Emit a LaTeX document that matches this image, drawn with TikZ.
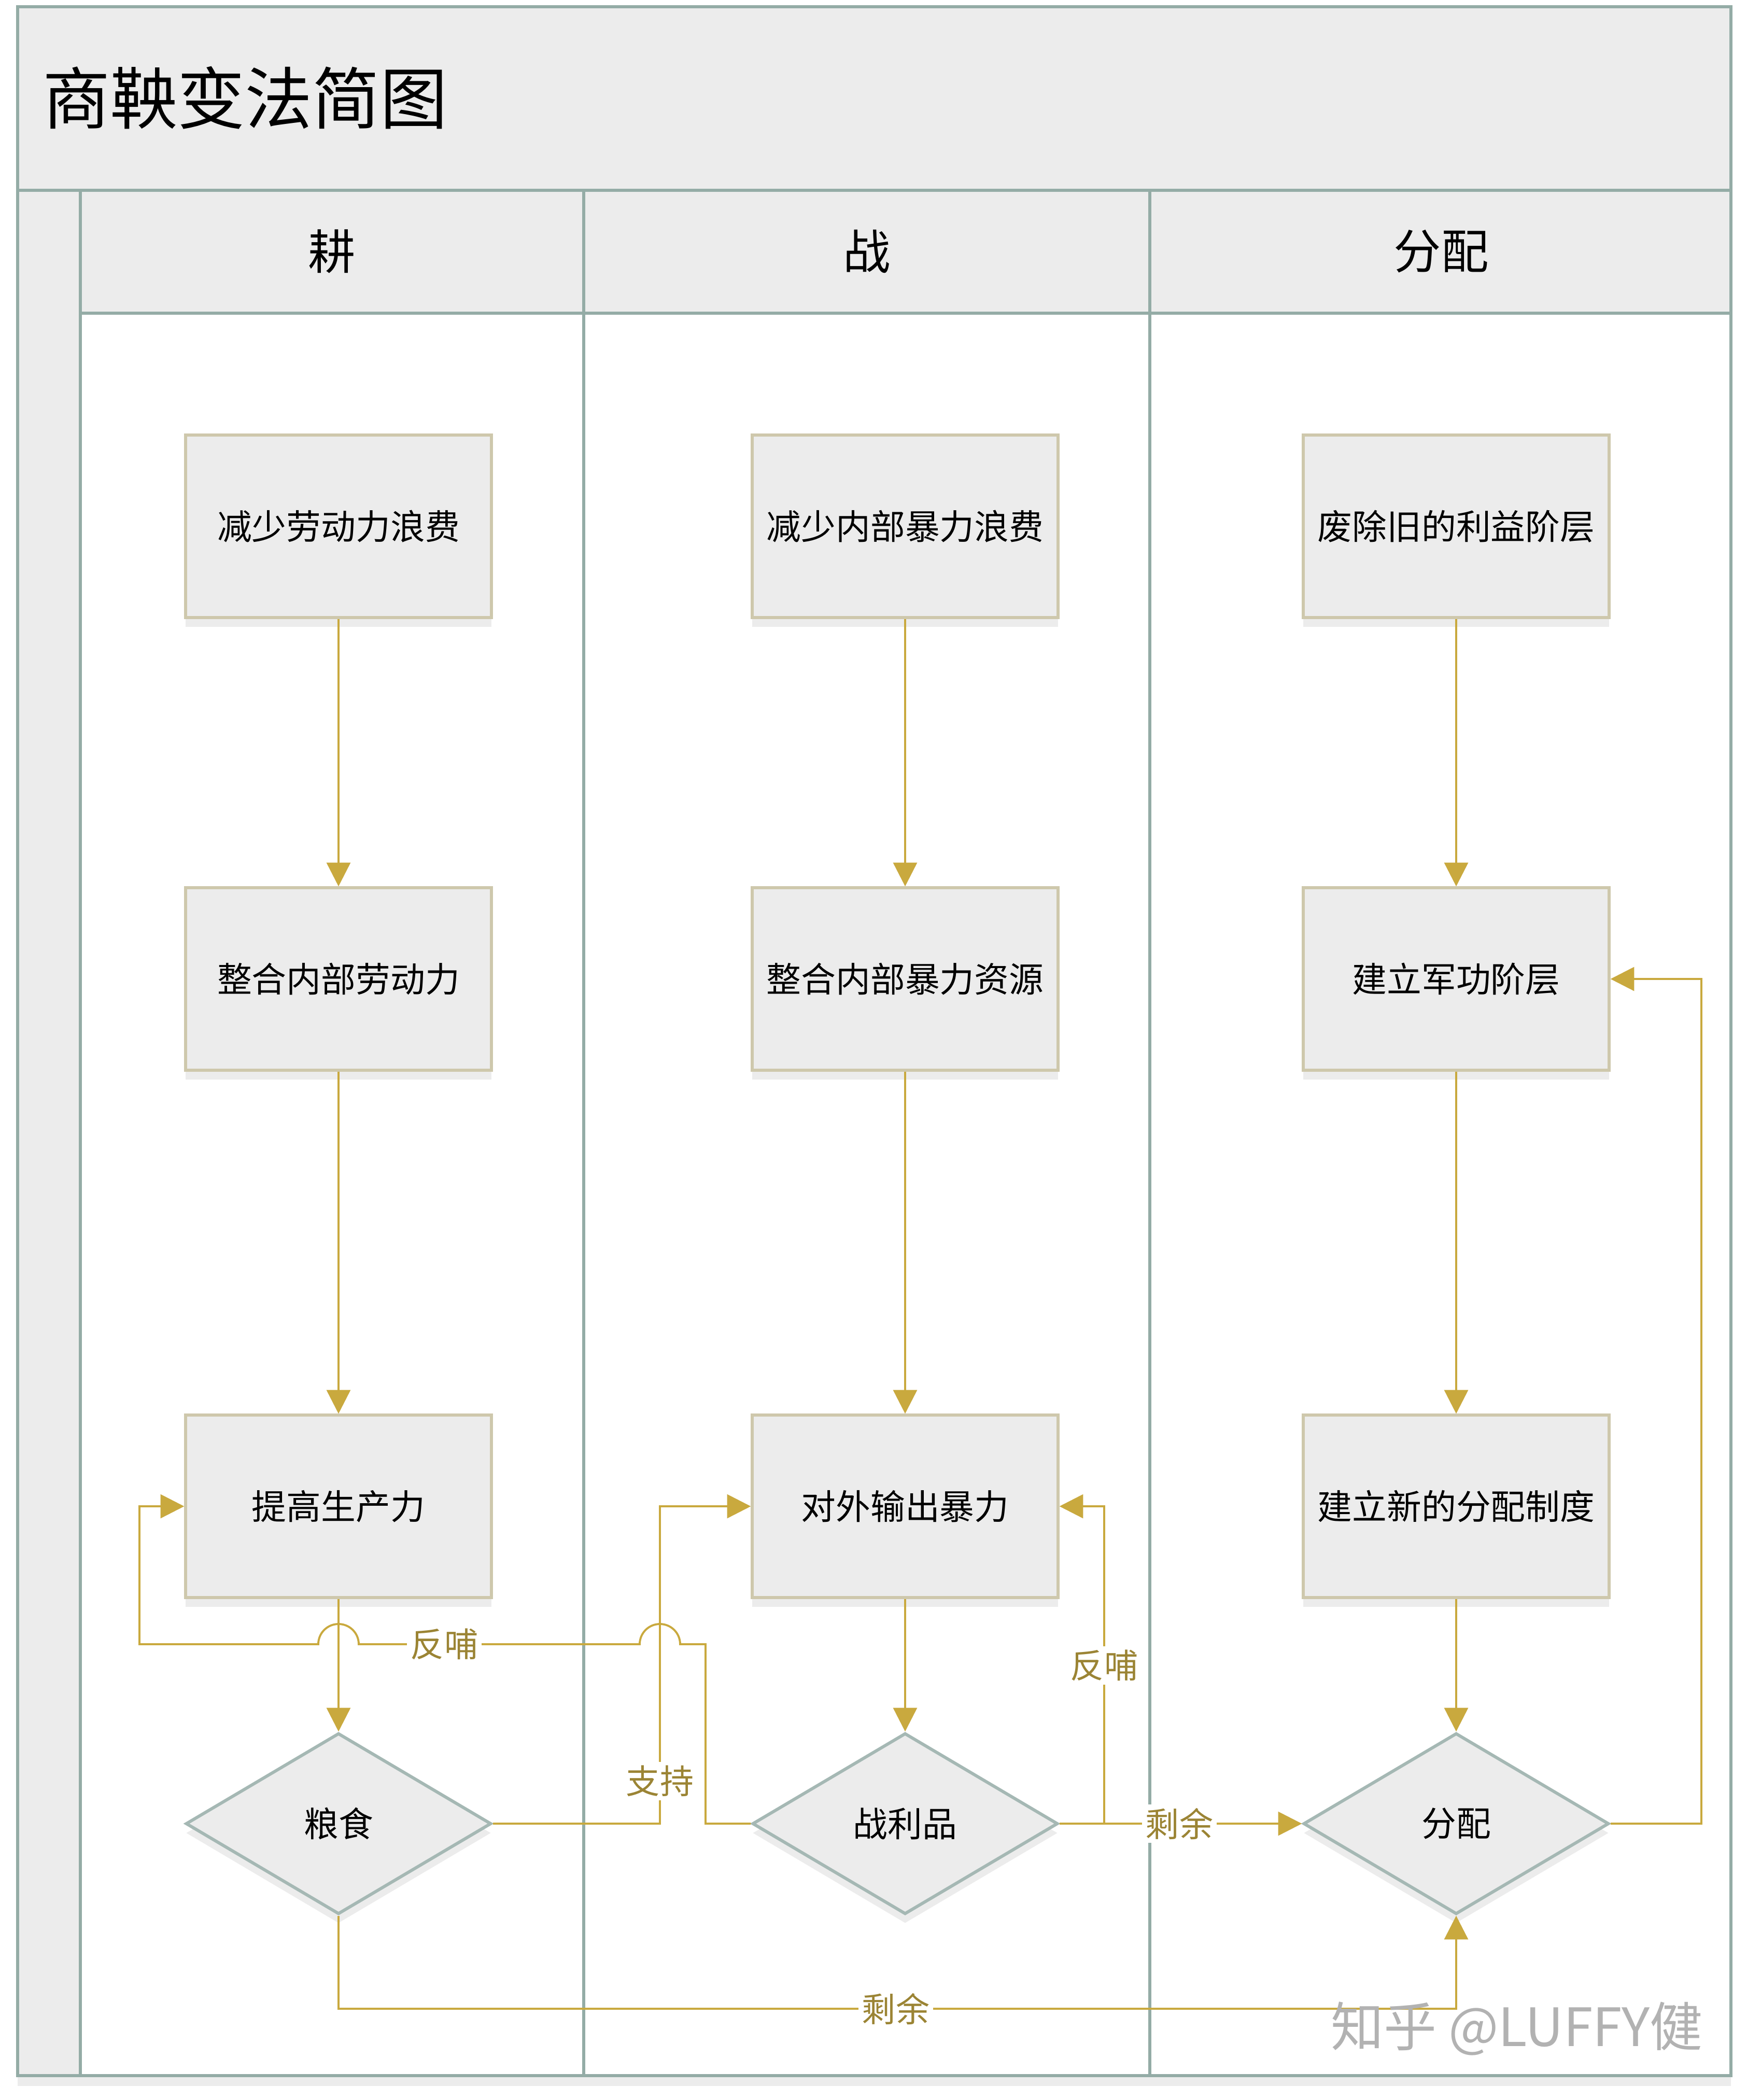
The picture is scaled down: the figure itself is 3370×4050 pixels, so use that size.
\documentclass[tikz,border=0pt]{standalone}
\usepackage{fontspec}
\setmainfont{Noto Sans CJK SC}
\usetikzlibrary{arrows.meta,shapes.geometric,shadows}
\definecolor{lanegray}{HTML}{94ACA6}
\definecolor{paper}{HTML}{ECECEC}
\definecolor{boxtan}{HTML}{CEC8AC}
\definecolor{diagray}{HTML}{A5B8B4}
\definecolor{gold}{HTML}{C9A93E}
\definecolor{goldtext}{HTML}{9B8434}
\tikzset{
  laneline/.style={draw=lanegray,line width=1.5pt},
  stepbox/.style={draw=boxtan,line width=1.7pt,fill=paper,minimum width=5.89cm,minimum height=3.51cm,
    drop shadow={opacity=.15,shadow xshift=0pt,shadow yshift=-.18cm}},
  choice/.style={diamond,draw=diagray,line width=1.7pt,fill=paper,inner sep=0pt,minimum width=5.89cm,minimum height=3.49cm,
    drop shadow={opacity=.15,shadow xshift=0pt,shadow yshift=-.18cm}},
  flow/.style={draw=gold,line width=1.1pt},
  tag/.style={fill=white,text=goldtext,inner sep=2pt,font=\fontsize{18.5}{22}\selectfont},
}
\begin{document}
\begin{tikzpicture}[x=.01cm,y=-.01cm,>={Triangle[length=13pt,width=13pt]},font=\fontsize{19}{23}\selectfont]
  \useasboundingbox[fill=white] (0,0) rectangle (3370,4050);
  % frame and lanes
  \fill[white,drop shadow={opacity=.15,shadow xshift=0pt,shadow yshift=-.2cm}] (34,13) rectangle (3339,4003);
  \draw[laneline,fill=paper] (34,13) rectangle (3339,367);
  \draw[laneline,fill=paper] (34,367) rectangle (155,4003);
  \foreach \a/\b in {155/1126,1126/2218,2218/3339} {
    \draw[laneline,fill=white] (\a,604) rectangle (\b,4003);
    \draw[laneline,fill=paper] (\a,367) rectangle (\b,604);
  }
  \node[anchor=west,font=\fontsize{37}{44}\selectfont] (title) at (70,189) {商鞅变法简图};
  \foreach \n/\x/\t in {geng/640/耕,zhan/1672/战,fenpei/2780/分配}
    \node[font=\fontsize{26}{31}\selectfont] (\n) at (\x,485) {\t};

  % steps
  \foreach \n/\x/\y/\t in {g1/653/1015/减少劳动力浪费,g2/653/1888/整合内部劳动力,g3/653/2905/提高生产力,
      z1/1746/1015/减少内部暴力浪费,z2/1746/1888/整合内部暴力资源,z3/1746/2905/对外输出暴力,
      f1/2809/1015/废除旧的利益阶层,f2/2809/1888/建立军功阶层,f3/2809/2905/建立新的分配制度}
    \node[stepbox] (\n) at (\x,\y) {\t};
  \node[choice] (grain) at (653,3517) {粮食};
  \node[choice] (loot) at (1746,3517) {战利品};
  \node[choice] (share) at (2809,3517) {分配};

  \foreach \c/\d in {g/grain,z/loot,f/share} {
    \draw[flow,->] (\c1) -- (\c2);
    \draw[flow,->] (\c2) -- (\c3);
    \draw[flow,->] (\c3) -- (\d);
  }

  % cross links
  \draw[flow,->] (loot.west) -- (1361,3517) -- (1361,3171) -- (1312,3171)
    arc[start angle=0,end angle=180,radius=.39cm] -- (692,3171)
    arc[start angle=0,end angle=180,radius=.39cm] -- (269,3171) |- (g3.west);
  \draw[flow,->] (grain.east) -- (1273,3517) |- (z3.west);
  \draw[flow,->] (loot.east) -- (2130,3517) |- (z3.east);
  \draw[flow,->] (loot.east) -- (share.west);
  \draw[flow,->] (grain.south) -- (653,3874) -| (share.south);
  \draw[flow,->] (share.east) -- (3282,3517) |- (f2.east);

  \node[tag] (back1) at (857,3171) {反哺};
  \node[tag] (back2) at (2130,3212) {反哺};
  \node[tag] (support) at (1273,3435) {支持};
  \node[tag] (rest1) at (2275,3517) {剩余};
  \node[tag] (rest2) at (1728,3874) {剩余};

  \node[font=\fontsize{29}{34}\selectfont,text=black!30] (mark) at (2926,3912) {知乎 @LUFFY健};
\end{tikzpicture}
\end{document}
